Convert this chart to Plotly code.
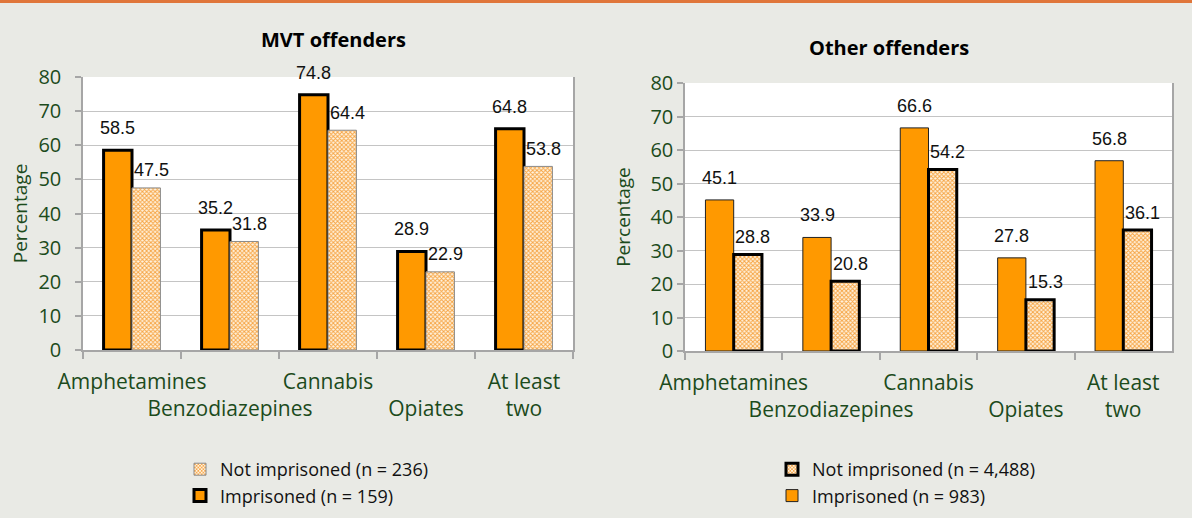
import plotly.graph_objects as go

categories = ["Amphetamines", "Benzodiazepines", "Cannabis", "Opiates", "At least two"]
tick_labels = ["Amphetamines", "<br>Benzodiazepines", "Cannabis", "<br>Opiates", "At least<br>two"]

mvt_imprisoned = [58.5, 35.2, 74.8, 28.9, 64.8]
mvt_not_imprisoned = [47.5, 31.8, 64.4, 22.9, 53.8]
other_imprisoned = [45.1, 33.9, 66.6, 27.8, 56.8]
other_not_imprisoned = [28.8, 20.8, 54.2, 15.3, 36.1]

mvt_names = ["Imprisoned (n = 159)", "Not imprisoned (n = 236)"]
other_names = ["Imprisoned (n = 983)", "Not imprisoned (n = 4,488)"]
titles = ["MVT offenders", "Other offenders"]
y_ticks = [0, 10, 20, 30, 40, 50, 60, 70, 80]

W, H = 1192, 518
BG = "#E9EAE5"
ORANGE = "#FF9900"
GREEN = "#1C4B1C"
GRID = "#C4C4C4"
AXIS = "#A6A6A6"
FONT = "Open Sans"
LABEL_FONT = "Liberation Sans, Arial"

def px_x(v):
    return v / W

def px_y(v):
    return (H - v) / H

hatch = dict(shape="x", size=3, solidity=0.55, fgcolor="#F6A545", bgcolor="#FFF3E0", fillmode="replace")

fig = go.Figure()

# Left chart (MVT offenders)
fig.add_trace(go.Bar(
    x=categories, y=mvt_imprisoned, name=mvt_names[0], xaxis="x", yaxis="y",
    marker=dict(color=ORANGE, line=dict(color="#000000", width=3)),
    legend="legend", legendgroup="a1", legendrank=2,
))
fig.add_trace(go.Bar(
    x=categories, y=mvt_not_imprisoned, name=mvt_names[1], xaxis="x", yaxis="y",
    marker=dict(color="#FFF3E0", pattern=hatch, line=dict(color="#8A8A8A", width=1)),
    legend="legend", legendgroup="a2", legendrank=1,
))
# Right chart (Other offenders)
fig.add_trace(go.Bar(
    x=categories, y=other_imprisoned, name=other_names[0], xaxis="x2", yaxis="y2",
    marker=dict(color=ORANGE, line=dict(color="#222222", width=1)),
    legend="legend2", legendgroup="b1", legendrank=2,
))
fig.add_trace(go.Bar(
    x=categories, y=other_not_imprisoned, name=other_names[1], xaxis="x2", yaxis="y2",
    marker=dict(color="#FFF3E0", pattern=hatch, line=dict(color="#000000", width=3)),
    legend="legend2", legendgroup="b2", legendrank=1,
))

# Data labels
annotations = []
def add_labels(xref, yref, imp, notimp, half):
    for c, v in zip(categories, imp):
        annotations.append(dict(x=c, y=v, xref=xref, yref=yref, text=f"{v:.1f}",
                                showarrow=False, xshift=-half, yshift=22, yanchor="middle",
                                font=dict(family=LABEL_FONT, size=18, color="#111111")))
    for c, v in zip(categories, notimp):
        annotations.append(dict(x=c, y=v, xref=xref, yref=yref, text=f"{v:.1f}",
                                showarrow=False, xshift=half + 5, yshift=17.5, yanchor="middle",
                                font=dict(family=LABEL_FONT, size=18, color="#111111")))

add_labels("x", "y", mvt_imprisoned, mvt_not_imprisoned, 14.2)
add_labels("x2", "y2", other_imprisoned, other_not_imprisoned, 14.1)

# Chart titles
annotations.append(dict(x=px_x(333), y=px_y(40), xref="paper", yref="paper", text=f"<b>{titles[0]}</b>",
                        showarrow=False, xanchor="center", yanchor="middle",
                        font=dict(family=FONT, size=20, color="#000000")))
annotations.append(dict(x=px_x(889), y=px_y(47), xref="paper", yref="paper", text=f"<b>{titles[1]}</b>",
                        showarrow=False, xanchor="center", yanchor="middle",
                        font=dict(family=FONT, size=20, color="#000000")))

xaxis_common = dict(
    type="category", categoryorder="array", categoryarray=categories,
    tickmode="array", tickvals=categories, ticktext=tick_labels, tickangle=0,
    tickson="boundaries", ticks="outside", ticklen=7, tickcolor=AXIS, tickwidth=1.5,
    showline=True, linecolor=AXIS, linewidth=1.5, showgrid=False,
    tickfont=dict(family=FONT, size=21, color=GREEN), ticklabelstandoff=12,
    automargin=False, fixedrange=True,
)
yaxis_common = dict(
    range=[0, 80], tickmode="array", tickvals=y_ticks,
    ticks="outside", ticklen=6, tickcolor=AXIS, tickwidth=1.5,
    showline=True, linecolor=AXIS, linewidth=1.5, mirror=True,
    showgrid=True, gridcolor=GRID, gridwidth=1,
    zeroline=False,
    tickfont=dict(family=FONT, size=20, color=GREEN),
    automargin=False, fixedrange=True,
)

fig.update_layout(
    width=W, height=H,
    margin=dict(l=0, r=0, t=0, b=0, autoexpand=False),
    paper_bgcolor=BG, plot_bgcolor="#FFFFFF",
    barmode="group", bargap=0.42, bargroupgap=0,
    xaxis=dict(domain=[px_x(83), px_x(573)], anchor="y", **xaxis_common),
    yaxis=dict(domain=[px_y(350), px_y(77)], anchor="x", ticklabelstandoff=10,
               title=dict(text="Percentage", standoff=6, font=dict(family=FONT, size=19, color=GREEN)),
               **yaxis_common),
    xaxis2=dict(domain=[px_x(685), px_x(1172)], anchor="y2", **xaxis_common),
    yaxis2=dict(domain=[px_y(351), px_y(83)], anchor="x2", ticklabelstandoff=0,
                title=dict(text="Percentage", font=dict(family=FONT, size=19, color=GREEN)),
                **yaxis_common),
    legend=dict(x=px_x(180), y=px_y(451), xanchor="left", yanchor="top",
                traceorder="grouped", tracegroupgap=0,
                font=dict(family=FONT, size=18, color="#111111"),
                bgcolor="rgba(0,0,0,0)", itemclick=False, itemdoubleclick=False),
    legend2=dict(x=px_x(772), y=px_y(451), xanchor="left", yanchor="top",
                 traceorder="grouped", tracegroupgap=0,
                 font=dict(family=FONT, size=18, color="#111111"),
                 bgcolor="rgba(0,0,0,0)", itemclick=False, itemdoubleclick=False),
    annotations=annotations,
    shapes=[dict(type="rect", xref="paper", yref="paper", x0=0, x1=1, y0=px_y(3), y1=1,
                 fillcolor="#E0763A", line=dict(width=0), layer="above")],
    showlegend=True,
)

fig.write_html("out.html", config={"displayModeBar": False},
               post_script="document.body.style.margin='0';")
